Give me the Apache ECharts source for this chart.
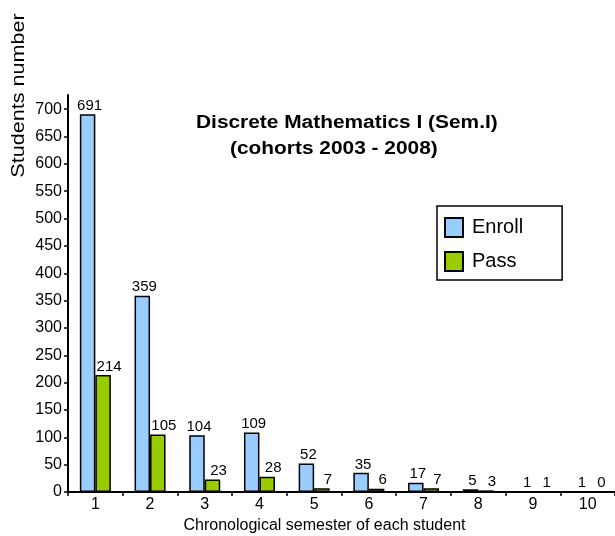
<!DOCTYPE html>
<html>
<head>
<meta charset="utf-8">
<script src="https://cdn.jsdelivr.net/npm/echarts@6/dist/echarts.min.js"></script>
<style>
  html, body { margin: 0; padding: 0; background: #fff; }
  #chart { width: 615px; height: 536px; }
</style>
</head>
<body>
<div id="chart"></div>
<script>
// Chronological semester of each student
const semesters = ['1', '2', '3', '4', '5', '6', '7', '8', '9', '10'];
// Students enrolled / passed per semester
const enroll = [691, 359, 104, 109, 52, 35, 17, 5, 1, 1];
const pass = [214, 105, 23, 28, 7, 6, 7, 3, 1, 0];
// Y axis tick values
const yTicks = [0, 50, 100, 150, 200, 250, 300, 350, 400, 450, 500, 550, 600, 650, 700];

const titleLine1 = 'Discrete Mathematics I (Sem.I)';
const titleLine2 = '(cohorts 2003 - 2008)';
const yName = 'Students number';
const xName = 'Chronological semester of each student';

const FONT = '"Liberation Sans", Arial, sans-serif';

const chart = echarts.init(document.getElementById('chart'), null, { renderer: 'canvas' });

const barLabel = (dx) => ({
  show: true,
  position: 'top',
  distance: 1,
  offset: [dx, 0],
  color: '#000',
  fontFamily: FONT,
  fontSize: 15
});

chart.setOption({
  backgroundColor: '#fff',
  animation: false,
  grid: { left: 68, top: 95, width: 550, bottom: 44, containLabel: false },
  legend: {
    orient: 'vertical',
    left: 437,
    top: 206,
    padding: [11, 39, 8, 7],
    itemWidth: 18,
    itemHeight: 19,
    itemGap: 13,
    borderColor: '#000',
    borderWidth: 1.5,
    backgroundColor: '#fff',
    icon: 'rect',
    textStyle: { color: '#000', fontFamily: FONT, fontSize: 20, padding: [0, 0, 0, 4] },
    data: ['Enroll', 'Pass']
  },
  xAxis: {
    type: 'category',
    data: semesters,
    axisLine: { show: true, lineStyle: { color: '#000', width: 2 } },
    axisTick: { show: true, length: 4, lineStyle: { color: '#000', width: 1.5 } },
    axisLabel: { color: '#000', fontFamily: FONT, fontSize: 16, margin: 5 },
    splitLine: { show: false }
  },
  yAxis: {
    type: 'value',
    min: 0,
    max: 726,
    axisLine: { show: true, lineStyle: { color: '#000', width: 2 } },
    axisTick: { show: true, length: 4, customValues: yTicks, lineStyle: { color: '#000', width: 1.5 } },
    axisLabel: { color: '#000', fontFamily: FONT, fontSize: 16, margin: 6, customValues: yTicks },
    splitLine: { show: false }
  },
  series: [
    {
      name: 'Enroll',
      type: 'bar',
      data: enroll,
      barWidth: 15.5,
      barGap: '0%',
      itemStyle: { color: '#99CCFF', borderColor: '#000', borderWidth: 1.5 },
      label: barLabel(2)
    },
    {
      name: 'Pass',
      type: 'bar',
      data: pass,
      barWidth: 15.5,
      barGap: '0%',
      itemStyle: { color: '#99CC00', borderColor: '#000', borderWidth: 1.5 },
      label: barLabel(6)
    }
  ],
  graphic: [
    {
      type: 'text', x: 196, y: 123.5, scaleX: 1.16,
      style: { text: titleLine1, font: 'bold 18px ' + FONT, fill: '#000', align: 'left', verticalAlign: 'middle' }
    },
    {
      type: 'text', x: 230, y: 149, scaleX: 1.16,
      style: { text: titleLine2, font: 'bold 18px ' + FONT, fill: '#000', align: 'left', verticalAlign: 'middle' }
    },
    {
      type: 'text', x: 19, y: 95.5, rotation: Math.PI / 2, scaleX: 1.2,
      style: { text: yName, font: '18px ' + FONT, fill: '#000', align: 'center', verticalAlign: 'middle' }
    },
    {
      type: 'text', x: 324.5, y: 526,
      style: { text: xName, font: '16px ' + FONT, fill: '#000', align: 'center', verticalAlign: 'middle' }
    }
  ]
});
</script>
</body>
</html>
